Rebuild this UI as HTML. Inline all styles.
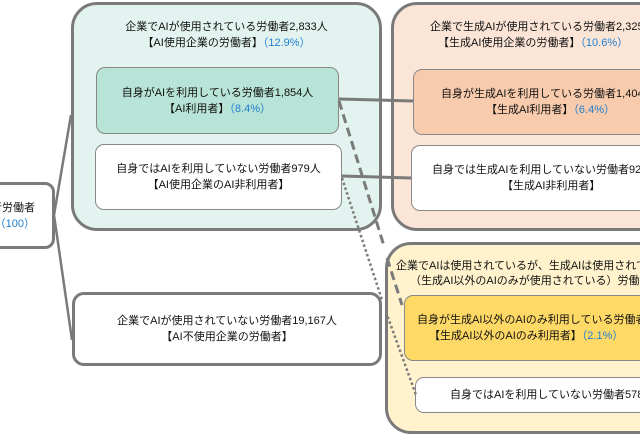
<!DOCTYPE html>
<html><head><meta charset="utf-8"><style>
body{margin:0;width:640px;height:436px;overflow:hidden;background:#fff;font-family:"Liberation Sans","Noto Sans CJK JP",sans-serif;font-size:11px;color:#111;}
#w{position:relative;width:640px;height:436px;overflow:hidden;}
.b{position:absolute;box-sizing:border-box;display:flex;flex-direction:column;align-items:center;justify-content:center;text-align:center;line-height:16px;white-space:nowrap;overflow:hidden;}
.big{border:3px solid #7a7a7a;border-radius:26px;justify-content:flex-start;padding-top:14px;}
.in{border:1px solid #888;border-radius:9px;}
.p{color:#1f7fcf;}
</style></head><body><div id="w">
<div class="b big" style="left:71px;top:2px;width:311px;height:229px;background:#e3f4f0"><div>企業でAIが使用されている労働者2,833人</div><div>【AI使用企業の労働者】<span class="p">（12.9%）</span></div></div>
<div class="b big" style="left:391px;top:2px;width:280px;height:229px;background:#fbe5d6;align-items:flex-start;padding-left:36px"><div>企業で生成AIが使用されている労働者2,325人</div><div style="padding-left:8px">【生成AI使用企業の労働者】<span class="p">（10.6%）</span></div></div>
<div class="b big" style="left:385px;top:242px;width:290px;height:192px;background:#fff2cc;align-items:flex-start;padding-left:8px;line-height:15px"><div>企業でAIは使用されているが、生成AIは使用されていない</div><div style="padding-left:14px">（生成AI以外のAIのみが使用されている）労働者</div></div>
<div class="b in" style="left:96px;top:67px;width:243px;height:67px;background:#b8e3d7"><div>自身がAIを利用している労働者1,854人</div><div>【AI利用者】<span class="p">（8.4%）</span></div></div>
<div class="b in" style="left:95px;top:144px;width:247px;height:66px;background:#fff"><div>自身ではAIを利用していない労働者979人</div><div>【AI使用企業のAI非利用者】</div></div>
<div class="b in" style="left:413px;top:69px;width:250px;height:66px;background:#f8cbad;align-items:flex-start;padding-left:27px"><div>自身が生成AIを利用している労働者1,404人</div><div style="padding-left:45px">【生成AI利用者】<span class="p">（6.4%）</span></div></div>
<div class="b in" style="left:411px;top:145px;width:250px;height:66px;background:#fff;align-items:flex-start;padding-left:20px"><div>自身では生成AIを利用していない労働者921人</div><div style="padding-left:70px">【生成AI非利用者】</div></div>
<div class="b in" style="left:404px;top:295px;width:260px;height:66px;background:#ffd966;align-items:flex-start;padding-left:12px"><div>自身が生成AI以外のAIのみ利用している労働者</div><div style="padding-left:12px">【生成AI以外のAIのみ利用者】<span class="p">（2.1%）</span></div></div>
<div class="b in" style="left:415px;top:377px;width:250px;height:36px;background:#fff;align-items:flex-start;padding-left:34px"><div>自身ではAIを利用していない労働者578人</div></div>
<div class="b" style="left:72px;top:292px;width:310px;height:74px;border:3px solid #7a7a7a;border-radius:12px;background:#fff"><div>企業でAIが使用されていない労働者19,167人</div><div>【AI不使用企業の労働者】</div></div>
<div class="b" style="left:-20px;top:182px;width:75px;height:67px;border:3px solid #7a7a7a;border-radius:10px;background:#fff;align-items:flex-end;padding-right:17px"><div>者労働者</div><div>人<span class="p">（100）</span></div></div>
<svg style="position:absolute;left:0;top:0" width="640" height="436">
<g stroke="#7a7a7a" fill="none">
<path d="M54 215 L71 115 M54 215 L72 340" stroke-width="2.5"/>
<path d="M339 99 L413 101 M342 176 L411 178" stroke-width="3"/>
<path d="M339 101 L384 246 M387 258 L402 305" stroke-width="3" stroke-dasharray="9 5"/>
<path d="M342 178 L382 300 M386 312 L416 395" stroke-width="2.5" stroke-dasharray="2.5 2.5"/>
</g></svg>
</div></body></html>
